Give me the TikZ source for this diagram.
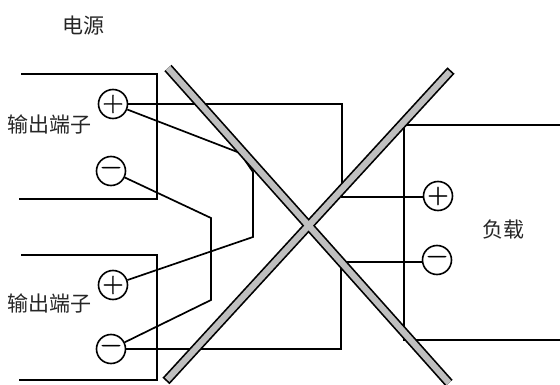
\documentclass[tikz,border=0pt]{standalone}
\usepackage{fontspec}
\newfontfamily\cjk{Noto Sans CJK SC}
\newfontfamily\signs[FakeBold=1.5]{Latin Modern Roman}

\begin{document}
\begin{tikzpicture}[x=1pt,y=-1pt,wire/.style={line width=1.7pt,line join=miter},terminal/.style={draw,circle,line width=1.6pt,minimum size=29pt,inner sep=0pt,font=\signs\fontsize{29}{29}\selectfont},caption/.style={font=\cjk\fontsize{21}{21}\selectfont,text=black!85,inner sep=0pt}]
\useasboundingbox (0,0) rectangle (560,385);
% terminals come first so that the wires can use their names
\path node[terminal] (plusa) at (113,104) {+}
 node[terminal] (minusa) at (111,171) {−}
 node[terminal] (plusb) at (113,285) {+}
 node[terminal] (minusb) at (111,349) {−}
 node[terminal] (plusload) at (438,196) {+}
 node[terminal] (minusload) at (437,260) {−};
\node[caption] (supply) at (83,26) {电源};
\node[caption] (outa) at (50,125) {输出端子};
\node[caption] (outb) at (50,304) {输出端子};
\node[caption] (load) at (503,230) {负载};
% boxes
\draw[wire] (21,74) -- (157,74) -- (157,199) -- (19,199);
\draw[wire] (21,255) -- (157,255) -- (157,380) -- (19,380);
\draw[wire] (560,125) -- (404,125) -- (404,340) -- (560,340);
% wires
\coordinate (pa1) at (342,104);
\coordinate (pa2) at (342,197);
\coordinate (ma1) at (211,218);
\coordinate (ma2) at (211,300);
\coordinate (pb1) at (240,153);
\coordinate (pb2) at (253,172);
\coordinate (pb3) at (253,237);
\coordinate (mb1) at (341,349);
\coordinate (mb2) at (341,262);
\draw[wire] (plusa) -- (pa1) -- (pa2) -- (pa2 -| plusload.west);
\draw[wire] (plusa) -- (pb1) -- (pb2) -- (pb3) -- (plusb);
\draw[wire] (minusa) -- (ma1) -- (ma2) -- (minusb);
\draw[wire] (minusb) -- (mb1) -- (mb2) -- (mb2 -| minusload.west);
% the cross
\coordinate (xa) at (168,68);
\coordinate (xb) at (449,383);
\coordinate (xc) at (451,70.5);
\coordinate (xd) at (166,381);
\draw[line width=9.6pt] (xa) -- (xb) (xc) -- (xd);
\draw[line width=6.2pt,color=black!25,shorten <=1.7pt,shorten >=1.7pt] (xa) -- (xb) (xc) -- (xd);
\end{tikzpicture}
\end{document}
